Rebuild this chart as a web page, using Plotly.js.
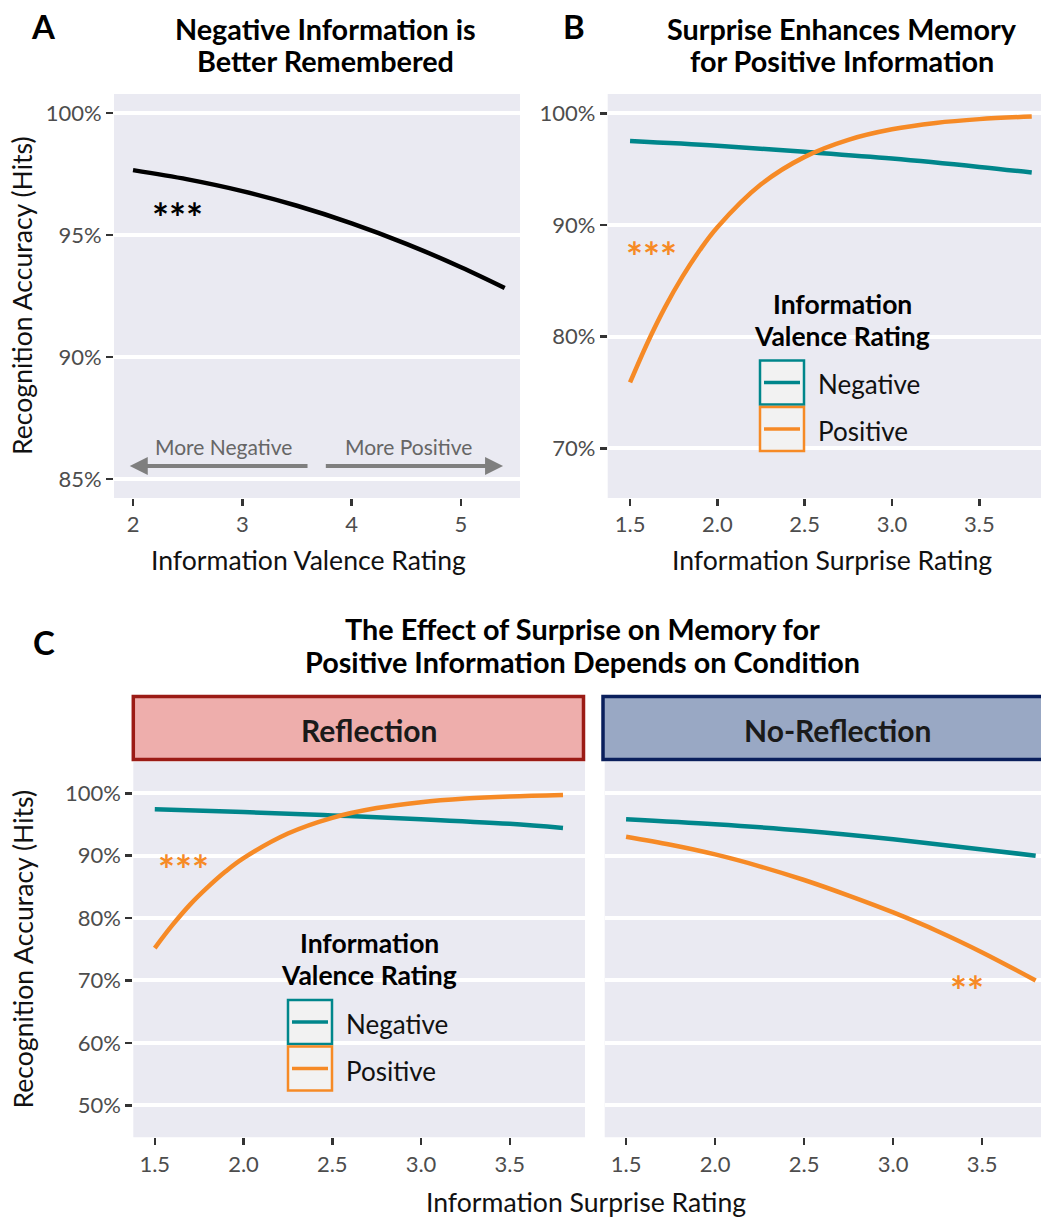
<!DOCTYPE html>
<html>
<head>
<meta charset="utf-8">
<script src="https://cdn.plot.ly/plotly-3.0.1.min.js"></script>
<style>html,body{margin:0;padding:0;background:#fff;}#chart{width:1041px;height:1218px;}</style>
</head>
<body>
<div id="chart"></div>
<script>
// ---------- DATA ----------
// Panel A: valence rating vs recognition accuracy (%)
const valenceX = [2.0, 2.5, 3.0, 3.5, 4.0, 4.5, 5.0, 5.4];
const accuracyA = [97.66, 97.28, 96.8, 96.2, 95.48, 94.64, 93.68, 92.83];

// Panel B: surprise rating vs accuracy, by valence
const surpriseNegX = [1.5, 2.0, 2.5, 3.0, 3.5, 3.8];
const accNegB = [97.52, 97.1, 96.55, 95.95, 95.2, 94.69];
const surprisePosX = [1.5, 1.6, 1.7, 1.8, 1.9, 2.0, 2.25, 2.5, 2.75, 3.0, 3.25, 3.5, 3.8];
const accPosB = [75.9, 79.46, 82.62, 85.37, 87.76, 89.8, 93.64, 96.1, 97.63, 98.57, 99.14, 99.48, 99.72];

// Panel C: Reflection condition
const accNegRefl = [97.44, 97.0, 96.45, 95.85, 95.1, 94.44];
const accPosRefl = [75.2, 78.9, 82.2, 85.0, 87.5, 89.6, 93.55, 96.07, 97.63, 98.58, 99.15, 99.49, 99.73];

// Panel C: No-Reflection condition
const surpriseNoReflNegX = [1.5, 2.0, 2.5, 3.0, 3.5, 3.8];
const accNegNoRefl = [95.83, 95.03, 94.0, 92.63, 91.0, 90.0];
const surpriseNoReflPosX = [1.5, 1.75, 2.0, 2.25, 2.5, 2.75, 3.0, 3.25, 3.5, 3.8];
const accPosNoRefl = [93.04, 91.75, 90.2, 88.3, 86.1, 83.6, 80.9, 77.9, 74.5, 70.0];

const seriesNames = ['Negative', 'Positive'];
const facetNames = ['Reflection', 'No-Reflection'];
const xTicksA = [2, 3, 4, 5];
const xTicksS = [1.5, 2.0, 2.5, 3.0, 3.5];
const yTicksA = [85, 90, 95, 100];
const yTicksB = [70, 80, 90, 100];
const yTicksC = [50, 60, 70, 80, 90, 100];

// ---------- STYLE ----------
const W = 1041, H = 1218;
const FONT = 'Lato, "Open Sans", sans-serif';
const TEAL = '#00868B', ORANGE = '#F68A26';
const BG = '#EAEAF2';
const px = v => v / W;
const py = v => 1 - v / H;

const lw = 4.5;
const traces = [
  {x: valenceX, y: accuracyA, xaxis: 'x', yaxis: 'y', mode: 'lines', line: {color: '#000', width: lw, shape: 'spline'}, showlegend: false},
  {x: surpriseNegX, y: accNegB, xaxis: 'x2', yaxis: 'y2', mode: 'lines', name: seriesNames[0], line: {color: TEAL, width: lw, shape: 'spline'}, showlegend: false},
  {x: surprisePosX, y: accPosB, xaxis: 'x2', yaxis: 'y2', mode: 'lines', name: seriesNames[1], line: {color: ORANGE, width: lw, shape: 'spline'}, showlegend: false},
  {x: surpriseNegX, y: accNegRefl, xaxis: 'x3', yaxis: 'y3', mode: 'lines', name: seriesNames[0], line: {color: TEAL, width: lw, shape: 'spline'}, showlegend: false},
  {x: surprisePosX, y: accPosRefl, xaxis: 'x3', yaxis: 'y3', mode: 'lines', name: seriesNames[1], line: {color: ORANGE, width: lw, shape: 'spline'}, showlegend: false},
  {x: surpriseNoReflNegX, y: accNegNoRefl, xaxis: 'x4', yaxis: 'y4', mode: 'lines', name: seriesNames[0], line: {color: TEAL, width: lw, shape: 'spline'}, showlegend: false},
  {x: surpriseNoReflPosX, y: accPosNoRefl, xaxis: 'x4', yaxis: 'y4', mode: 'lines', name: seriesNames[1], line: {color: ORANGE, width: lw, shape: 'spline'}, showlegend: false}
];

const tickFont = {family: FONT, size: 22, color: '#4D4D4D'};
function xax(domain, range, tickvals, fmt, anchor) {
  return {domain, range, tickmode: 'array', tickvals, ticktext: tickvals.map(v => fmt === 'd' ? String(v) : v.toFixed(1)), anchor,
    showgrid: false, zeroline: false, ticks: 'outside', ticklen: 7, tickwidth: 2.5, tickcolor: '#333', tickfont: tickFont,
    showline: false, fixedrange: true};
}
function yax(domain, range, tickvals, anchor) {
  return {domain, range, tickmode: 'array', tickvals, ticktext: tickvals.map(v => v + '%'), anchor,
    showgrid: true, gridcolor: '#FFFFFF', gridwidth: 4, zeroline: false, ticks: 'outside', ticklen: 7, tickwidth: 2.5,
    tickcolor: '#333', tickfont: tickFont, showline: false, fixedrange: true};
}

const layout = {
  width: W, height: H,
  margin: {l: 0, r: 0, t: 0, b: 0},
  paper_bgcolor: '#FFFFFF',
  plot_bgcolor: 'rgba(0,0,0,0)',
  font: {family: FONT},
  showlegend: false,
  xaxis: xax([px(114), px(520)], [1.826, 5.54], xTicksA, 'd', 'y'),
  yaxis: yax([py(498), py(94)], [84.22, 100.78], yTicksA, 'x'),
  xaxis2: xax([px(607.7), 1], [1.372, 3.853], xTicksS, 'f', 'y2'),
  yaxis2: yax([py(498), py(94)], [65.55, 101.73], yTicksB, 'x2'),
  xaxis3: xax([px(133.3), px(585)], [1.379, 3.924], xTicksS, 'f', 'y3'),
  yaxis3: yax([py(1137.3), py(761.7)], [44.87, 105.06], yTicksC, 'x3'),
  xaxis4: xax([px(604.7), 1], [1.38, 3.83], xTicksS, 'f', 'y4'),
  yaxis4: yax([py(1137.3), py(761.7)], [44.87, 105.06], yTicksC, 'x4'),
  shapes: [],
  annotations: []
};
layout.yaxis4.showticklabels = false;
layout.yaxis4.ticks = '';

// panel backgrounds
[['x', 'y'], ['x2', 'y2'], ['x3', 'y3'], ['x4', 'y4']].forEach(([xa, ya]) => {
  layout.shapes.push({type: 'rect', xref: xa + ' domain', yref: ya + ' domain', x0: 0, x1: 1, y0: 0, y1: 1,
    fillcolor: BG, line: {width: 0}, layer: 'below'});
});

// facet strips
const strips = [
  {x0: 133.3, x1: 583.5, fill: '#EEAEAC', border: '#9B1B15', label: facetNames[0], tx: 369},
  {x0: 603, x1: 1045, fill: '#99A8C4', border: '#0A1F5C', label: facetNames[1], tx: 837}
];
strips.forEach(s => {
  layout.shapes.push({type: 'rect', xref: 'paper', yref: 'paper', x0: px(s.x0), x1: px(s.x1), y0: py(759.5), y1: py(696.5),
    fillcolor: s.fill, line: {color: s.border, width: 3.5}});
  layout.annotations.push({xref: 'paper', yref: 'paper', x: px(s.tx), y: py(730),
    text: '<b>' + s.label + '</b>', showarrow: false, font: {family: FONT, size: 30, color: '#1A1A1A'}, xanchor: 'center', yanchor: 'middle'});
});

// titles
const ann = (x, y, text, size, opts = {}) => layout.annotations.push(Object.assign({xref: 'paper', yref: 'paper', x: px(x), y: py(y), text,
  showarrow: false, xanchor: 'center', yanchor: 'middle', font: {family: FONT, size, color: '#000'}}, opts));
const ann2 = (x, y1, y2, l1, l2, size, opts) => { ann(x, y1, l1, size, opts); ann(x, y2, l2, size, opts); };

ann(43.5, 26, '<b>A</b>', 33);
ann(574, 26, '<b>B</b>', 33);
ann(43.5, 642, '<b>C</b>', 33);
ann2(325, 28.5, 61.5, '<b>Negative Information is</b>', '<b>Better Remembered</b>', 28.8);
ann2(842, 28.5, 61.5, '<b>Surprise Enhances Memory</b>', '<b>for Positive Information</b>', 28.8);
ann2(582, 628.5, 661.5, '<b>The Effect of Surprise on Memory for</b>', '<b>Positive Information Depends on Condition</b>', 28.8);

// axis titles
const axT = {family: FONT, size: 26.6, color: '#111'};
ann(22, 296, 'Recognition Accuracy (Hits)', 26.6, {textangle: -90, font: axT});
ann(22, 949.5, 'Recognition Accuracy (Hits)', 26.6, {textangle: -90, font: axT});
ann(308, 560, 'Information Valence Rating', 26.6, {font: axT});
ann(832, 560, 'Information Surprise Rating', 26.6, {font: axT});
ann(586, 1202, 'Information Surprise Rating', 26.6, {font: axT});

// significance stars
const star = (xref, yref, x, y, text, color) => layout.annotations.push({xref, yref, x, y, text: '<b>' + text + '</b>', showarrow: false,
  font: {family: FONT, size: 40, color}, xanchor: 'center', yanchor: 'middle', yshift: -6});
star('x', 'y', 2.41, 95.94, '***', '#000');
star('x2', 'y2', 1.624, 87.7, '***', ORANGE);
star('x3', 'y3', 1.66, 88.6, '***', ORANGE);
star('x4', 'y4', 3.415, 69.3, '**', ORANGE);

// direction arrows in panel A
const arrowCol = '#7F7F7F';
[[1.97, 3.61], [5.385, 3.75]].forEach(([head, tail]) => {
  layout.annotations.push({xref: 'x', yref: 'y', axref: 'x', ayref: 'y', x: head, y: 85.53, ax: tail, ay: 85.53, text: '',
    showarrow: true, arrowhead: 2, arrowsize: 0.9, arrowwidth: 4, arrowcolor: arrowCol, standoff: 0, startstandoff: 0});
});
layout.annotations.push({xref: 'x', yref: 'y', x: 2.83, y: 86.32, text: 'More Negative', showarrow: false,
  font: {family: FONT, size: 21, color: '#666'}, xanchor: 'center', yanchor: 'middle'});
layout.annotations.push({xref: 'x', yref: 'y', x: 4.52, y: 86.32, text: 'More Positive', showarrow: false,
  font: {family: FONT, size: 21, color: '#666'}, xanchor: 'center', yanchor: 'middle'});

// manual legends (panel B and panel C-left)
function legend(cx, titleY, boxX0, boxY0) {
  const tf = {font: {family: FONT, size: 26.5, color: '#000'}};
  ann2(cx, titleY - 16, titleY + 16, '<b>Information</b>', '<b>Valence Rating</b>', 26.5, tf);
  const cols = [TEAL, ORANGE];
  const bw = 44, bh = 44;
  cols.forEach((c, i) => {
    const y0 = boxY0 + i * (bh + 2.5);
    layout.shapes.push({type: 'rect', xref: 'paper', yref: 'paper', x0: px(boxX0), x1: px(boxX0 + bw), y0: py(y0 + bh), y1: py(y0),
      fillcolor: '#F2F2F2', line: {color: c, width: 2.5}});
    layout.shapes.push({type: 'line', xref: 'paper', yref: 'paper', x0: px(boxX0 + 4), x1: px(boxX0 + bw - 4), y0: py(y0 + bh / 2), y1: py(y0 + bh / 2),
      line: {color: c, width: 3.5}});
    layout.annotations.push({xref: 'paper', yref: 'paper', x: px(boxX0 + bw + 12), y: py(y0 + bh / 2 + 2), text: seriesNames[i], showarrow: false,
      xanchor: 'left', yanchor: 'middle', font: {family: FONT, size: 26, color: '#111'}});
  });
}
legend(842, 320, 760, 360.5);
legend(369, 958.5, 288, 1000);

Plotly.newPlot('chart', traces, layout, {staticPlot: true, displayModeBar: false});
</script>
</body>
</html>
